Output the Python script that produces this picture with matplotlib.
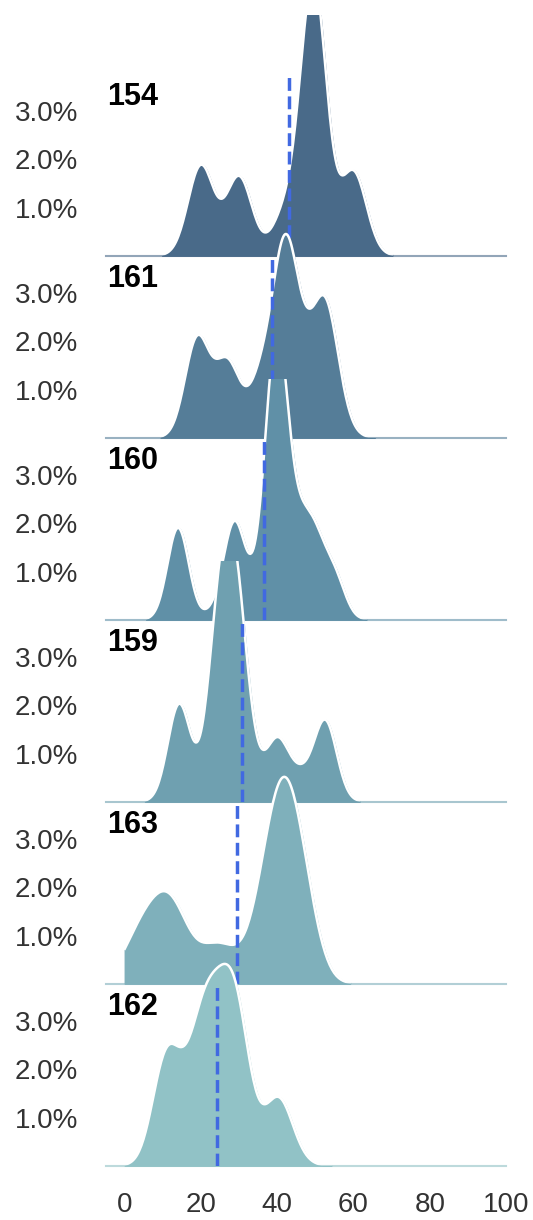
import numpy as np
import matplotlib
matplotlib.use("Agg")
import matplotlib.pyplot as plt

## DATA
# groups from top to bottom, with the mean of each one (dashed line)
groups = ["154", "161", "160", "159", "163", "162"]
means = [43.2, 38.6, 36.6, 30.7, 29.4, 24.1]

# observed scores and how many times each one occurs, per group
scores_154 = [20, 30, 42, 49.5, 60]
counts_154 = [158, 138, 70, 481, 146]

scores_161 = [19, 24, 27, 31, 36, 42, 47, 52.5, 56]
counts_161 = [163, 9, 115, 7, 94, 294, 96, 197, 28]

scores_160 = [14, 24, 28.8, 34, 38, 40, 42, 46, 50, 55]
counts_160 = [132, 12, 135, 21, 89, 287, 63, 95, 93, 59]

scores_159 = [14.3, 24, 27, 30, 34, 40, 46, 52.6]
counts_159 = [151, 168, 217, 186, 20, 92, 35, 124]

scores_163 = [1, 5, 9, 13, 19, 24, 28.5, 37, 41.7, 46.5]
counts_163 = [34, 74, 73, 120, 20, 60, 30, 149, 295, 165]

scores_162 = [10, 13, 17, 20.5, 24, 27, 30, 35, 40.3, 44]
counts_162 = [129, 87, 51, 179, 111, 136, 171, 24, 105, 16]

# kde bandwidth of each group
bandwidths = [3.4, 3.2, 2.8, 3.0, 4.2, 3.4]

scores = [scores_154, scores_161, scores_160, scores_159, scores_163, scores_162]
counts = [counts_154, counts_161, counts_160, counts_159, counts_163, counts_162]

colors = ["#496a89", "#557d98", "#6090a7", "#6fa0b0", "#7fb0bb", "#91c2c6"]
mean_color = "#4169e1"


## FUNCTIONS
def kde(x, data, weights, bw):
    # weighted gaussian kernel density of data, evaluated at x
    data = np.asarray(data, float)
    weights = np.asarray(weights, float)
    k = np.exp(-0.5 * ((x[:, None] - data[None, :]) / bw) ** 2) / (bw * np.sqrt(2 * np.pi))
    return (k * weights[None, :]).sum(axis=1) / weights.sum()


## PLOT
plt.rcParams['font.family'] = ['Liberation Sans', 'DejaVu Sans']
fig = plt.figure(figsize=(5.33, 12.2), dpi=100)

# overlapping rows, each one added later is drawn on top
left, width, height = 105.7 / 533, 400.3 / 533, 241 / 1220
for i, g in enumerate(groups):
    base = 255.7 + 182 * i
    ax = fig.add_axes([left, 1 - base / 1220, width, height])
    ax.set_facecolor('none')

    bw = bandwidths[i]
    lo = max(0, min(scores[i]) - 3 * bw)
    hi = min(100, max(scores[i]) + 3 * bw)
    x = np.linspace(lo, hi, 200)
    y = kde(x, scores[i], counts[i], bw)

    ax.fill_between(x, 0, y, color=colors[i], lw=1)
    ax.plot(x, y, color='white', lw=1.8)
    ax.axhline(0, color=colors[i], alpha=0.6, lw=1.5, clip_on=False)
    ax.axvline(means[i], ymax=0.75, color=mean_color, ls='--', lw=2.5)

    ax.text(0.003, 0.66, g, transform=ax.transAxes, fontsize=22, fontweight='bold',
            ha='left', va='center', color='black')

    ax.set_xlim(-5, 100)
    ax.set_ylim(0, 0.05)
    for s in ax.spines.values():
        s.set_visible(False)

    ax.set_yticks([0.01, 0.02, 0.03])
    ax.set_yticklabels(["1.0%", "2.0%", "3.0%"])
    ax.tick_params(axis='y', length=0, pad=20, labelsize=20, labelcolor='#333333')

    ax.set_xticks([0, 20, 40, 60, 80, 100])
    if i == len(groups) - 1:
        ax.tick_params(axis='x', length=0, pad=19, labelsize=20, labelcolor='#333333')
    else:
        ax.tick_params(axis='x', length=0, labelbottom=False)

fig.savefig("out.png", dpi=100)
